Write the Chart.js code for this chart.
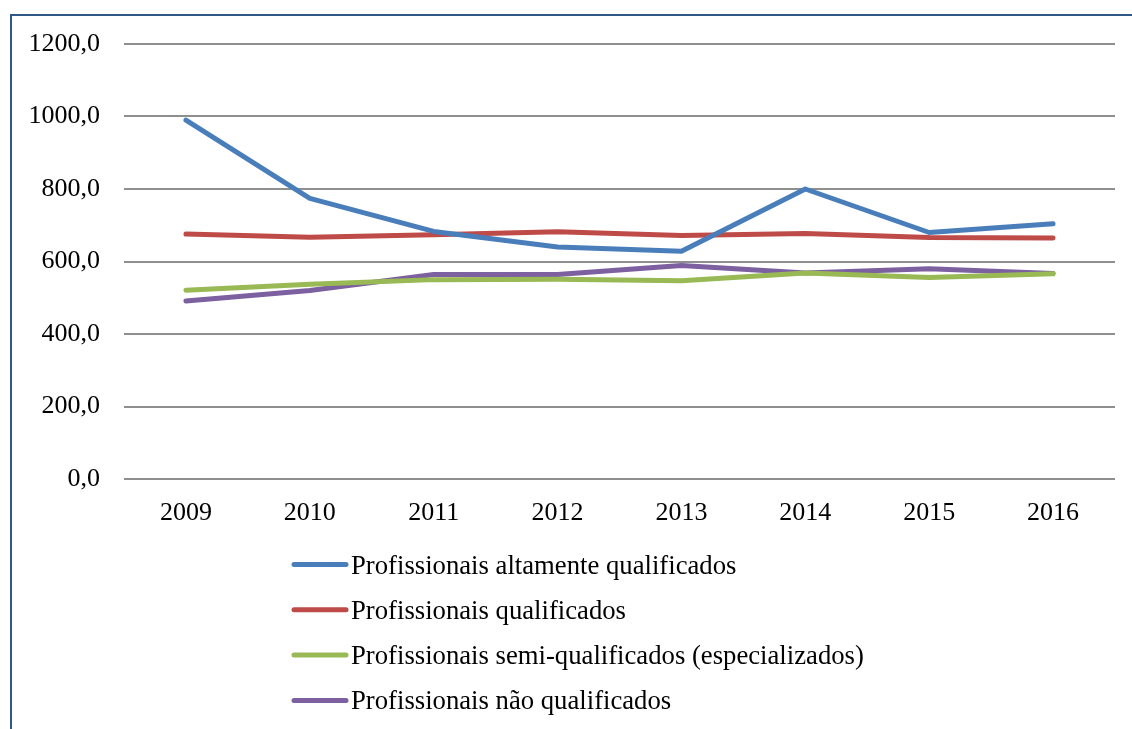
<!DOCTYPE html>
<html>
<head>
<meta charset="utf-8">
<script src="https://cdn.jsdelivr.net/npm/chart.js@4/dist/chart.umd.min.js"></script>
<style>
  html, body { margin: 0; padding: 0; background: #fff; overflow: hidden; }
  #frame {
    position: absolute; left: 10px; top: 14px;
    width: 1200px; height: 800px;
    border: 2px solid #30598a;
    box-sizing: border-box;
  }
  #my-chart { position: absolute; left: 0; top: 0; }
</style>
</head>
<body>
<div id="frame"></div>
<canvas id="my-chart" width="1132" height="729"></canvas>
<script>
const years = ["2009", "2010", "2011", "2012", "2013", "2014", "2015", "2016"];
const seriesNames = [
  "Profissionais altamente qualificados",
  "Profissionais qualificados",
  "Profissionais semi-qualificados (especializados)",
  "Profissionais não qualificados"
];
const altamente = [990, 774, 683, 640, 628, 800, 680, 704];
const qualificados = [676, 667, 674, 682, 672, 677, 666, 665];
const semiQualificados = [521, 537, 550, 551, 547, 568, 556, 566];
const naoQualificados = [491, 520, 564, 564, 589, 568, 580, 567];
const colors = ["#4a7ebb", "#be4b48", "#98b954", "#7d60a0"];

const fontFamily = "'Liberation Serif', 'Times New Roman', serif";
const font = { family: fontFamily, size: 26 };

// legend drawn as a vertical list under the plot, like the original
const listLegend = {
  id: "listLegend",
  afterDraw(chart) {
    const ctx = chart.ctx;
    ctx.save();
    chart.data.datasets.forEach((ds, i) => {
      const y = 564.5 + i * 45.3;
      ctx.strokeStyle = ds.borderColor;
      ctx.lineWidth = 5;
      ctx.lineCap = "round";
      ctx.beginPath();
      ctx.moveTo(294, y);
      ctx.lineTo(346, y);
      ctx.stroke();
      ctx.fillStyle = "#000";
      ctx.font = "26.7px " + fontFamily;
      ctx.textBaseline = "alphabetic";
      ctx.textAlign = "left";
      ctx.fillText(ds.label, 351, y + 9);
    });
    ctx.restore();
  }
};

const datasets = [altamente, qualificados, semiQualificados, naoQualificados].map((values, i) => ({
  label: seriesNames[i],
  data: values,
  borderColor: colors[i],
  backgroundColor: colors[i],
  borderWidth: 5,
  pointRadius: 0,
  tension: 0,
  borderJoinStyle: "round",
  borderCapStyle: "round"
}));

const chart = new Chart(document.getElementById("my-chart").getContext("2d"), {
  type: "line",
  data: { labels: years, datasets: datasets },
  options: {
    responsive: false,
    devicePixelRatio: 1,
    animation: false,
    layout: { padding: { top: 44, right: 17, left: 0, bottom: 0 } },
    plugins: { legend: { display: false }, tooltip: { enabled: false } },
    scales: {
      x: {
        offset: true,
        grid: { display: false },
        border: { display: false },
        ticks: { color: "#000", font: font, padding: 11, maxRotation: 0 },
        afterFit: scale => { scale.height = 250; }
      },
      y: {
        min: 0,
        max: 1200,
        grid: { color: "#8f8f8f", lineWidth: 2, drawTicks: false },
        border: { display: false },
        ticks: {
          stepSize: 200,
          color: "#000",
          font: font,
          padding: 24,
          callback: v => v.toFixed(1).replace(".", ",")
        },
        afterFit: scale => { scale.width = 124; }
      }
    }
  },
  plugins: [listLegend]
});
</script>
</body>
</html>
